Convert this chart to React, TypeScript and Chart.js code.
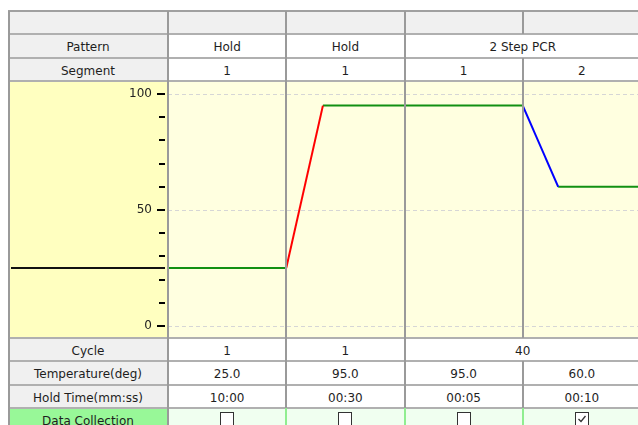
import React, { useEffect, useRef } from 'react';
import { Chart, registerables } from 'chart.js';

Chart.register(...registerables);

// ---------------- data ----------------
const initialTemp = 25;
const stepTemps = [25.0, 95.0, 95.0, 60.0];
const rampFractions = [0, 0.31, 0, 0.3];
const patternNames = ['Hold', 'Hold', '2 Step PCR'];
const patternSpans = [1, 1, 2];
const segmentNumbers = ['1', '1', '1', '2'];
const cycleCounts = ['1', '1', '40'];
const cycleSpans = [1, 1, 2];
const holdTimes = ['10:00', '00:30', '00:05', '00:10'];
const dataCollection = [false, false, false, true];
const yTickValues = [0, 10, 20, 30, 40, 50, 60, 70, 80, 90, 100];
const yLabelValues = [0, 50, 100];
const rowLabels = ['Pattern', 'Segment', 'Cycle', 'Temperature(deg)', 'Hold Time(mm:ss)', 'Data Collection'];

// ---------------- layout ----------------
const FONT = '"DejaVu Sans", sans-serif';
const TABLE_L = 8;
const LABEL_R = 168;
const COL_W = 118.25;
const PLOT_R = 638;
const colX = (i: number) => LABEL_R + i * COL_W;
const TOP_ROWS = [11, 34, 58, 81];
const CHART_TOP = 81;
const CHART_BOT = 338;
const BOT_ROWS = [338, 361, 385, 408, 431];
const PAD_TOP = 13;
const PAD_BOT = 12;

const GRAY_BG = '#f0f0f0';
const LINE_V = '#9a9a9a';
const LINE_H = '#b0b0b0';

function buildDatasets() {
  const sets: any[] = [];
  let prev = initialTemp;
  stepTemps.forEach((t, i) => {
    const rf = rampFractions[i];
    if (rf > 0) {
      sets.push({
        data: [
          { x: i, y: prev },
          { x: i + rf, y: t },
        ],
        borderColor: t > prev ? '#ff0000' : '#0000ff',
      });
    }
    sets.push({
      data: [
        { x: i + rf, y: t },
        { x: i + 1, y: t },
      ],
      borderColor: '#129012',
    });
    prev = t;
  });
  return sets.map((s) => ({ ...s, borderWidth: 2, pointRadius: 0, tension: 0, fill: false }));
}

const axisExtras = {
  id: 'axisExtras',
  afterDraw(chart: any) {
    const { ctx, chartArea } = chart;
    const y = chart.scales.y;
    ctx.save();
    ctx.strokeStyle = '#000';
    ctx.lineWidth = 2;
    y.ticks.forEach((t: any) => {
      const py = Math.round(y.getPixelForValue(t.value));
      const len = yLabelValues.includes(t.value) ? 8 : 6;
      ctx.beginPath();
      ctx.moveTo(chartArea.left - 3 - len, py);
      ctx.lineTo(chartArea.left - 3, py);
      ctx.stroke();
    });
    const py = y.getPixelForValue(initialTemp);
    ctx.strokeStyle = '#111';
    ctx.beginPath();
    ctx.moveTo(3, py);
    ctx.lineTo(chartArea.left - 3, py);
    ctx.stroke();
    ctx.restore();
  },
};

function ProfileChart() {
  const ref = useRef<HTMLCanvasElement | null>(null);
  useEffect(() => {
    if (!ref.current) return;
    const chart = new Chart(ref.current, {
      type: 'line',
      data: { datasets: buildDatasets() },
      options: {
        animation: false,
        responsive: false,
        maintainAspectRatio: false,
        devicePixelRatio: 1,
        layout: { padding: { top: PAD_TOP, bottom: PAD_BOT, left: 0, right: 0 } },
        plugins: { legend: { display: false }, tooltip: { enabled: false } },
        scales: {
          x: {
            type: 'linear',
            min: 0,
            max: (PLOT_R - LABEL_R) / COL_W,
            display: false,
          },
          y: {
            min: 0,
            max: 100,
            afterFit: (s: any) => {
              s.width = LABEL_R - TABLE_L;
            },
            afterBuildTicks: (s: any) => {
              s.ticks = yTickValues.map((v) => ({ value: v }));
            },
            ticks: {
              autoSkip: false,
              padding: 0,
              color: '#222',
              font: { family: FONT, size: 12 },
              callback: (v: any) => (yLabelValues.includes(Number(v)) ? String(v) : ''),
            },
            grid: {
              drawTicks: true,
              tickLength: 16,
              tickColor: 'rgba(0,0,0,0)',
              lineWidth: 1,
              color: (c: any) => (c.tick && yLabelValues.includes(c.tick.value) ? '#d6d6d6' : 'rgba(0,0,0,0)'),
            },
            border: { display: false, dash: [4, 3] },
          },
        },
      },
      plugins: [axisExtras],
    });
    return () => chart.destroy();
  }, []);
  return (
    <canvas
      ref={ref}
      width={PLOT_R - TABLE_L}
      height={CHART_BOT - CHART_TOP}
      style={{ position: 'absolute', left: TABLE_L, top: CHART_TOP, width: PLOT_R - TABLE_L, height: CHART_BOT - CHART_TOP, zIndex: 1 }}
    />
  );
}

function Cell(props: { x1: number; x2: number; y1: number; y2: number; bg: string; text?: string; children?: any }) {
  const { x1, x2, y1, y2, bg, text, children } = props;
  return (
    <div
      style={{
        position: 'absolute',
        left: x1,
        top: y1,
        width: x2 - x1,
        height: y2 - y1,
        boxSizing: 'border-box',
        paddingTop: 2,
        background: bg,
        display: 'flex',
        alignItems: 'center',
        justifyContent: 'center',
        whiteSpace: 'nowrap',
      }}
    >
      {text}
      {children}
    </div>
  );
}

function VLine({ x, y1, y2, color, w = 2 }: { x: number; y1: number; y2: number; color: string; w?: number }) {
  return <div style={{ position: 'absolute', left: x - w / 2, top: y1, width: w, height: y2 - y1, background: color, zIndex: 3 }} />;
}
function HLine({ y, color }: { y: number; color: string }) {
  return <div style={{ position: 'absolute', left: TABLE_L, top: y - 1, width: 660, height: 2, background: color, zIndex: 2 }} />;
}

function CheckBox({ checked }: { checked: boolean }) {
  return (
    <div style={{ width: 12, height: 12, border: '1px solid #333', background: '#fff', marginTop: 2, position: 'relative' }}>
      {checked ? (
        <svg width="12" height="12" style={{ position: 'absolute', left: 0, top: 0 }}>
          <polyline points="2.5,6 5,8.5 9.5,3" fill="none" stroke="#333" strokeWidth="1.3" />
        </svg>
      ) : null}
    </div>
  );
}

function spanCells(values: string[], spans: number[], y1: number, y2: number) {
  let c = 0;
  return values.map((v, i) => {
    const x1 = colX(c);
    c += spans[i];
    const x2 = colX(c);
    return <Cell key={i} x1={x1} x2={x2} y1={y1} y2={y2} bg="#fff" text={v} />;
  });
}
function spanLines(spans: number[], y1: number, y2: number, color: string) {
  let c = 0;
  const out: any[] = [];
  spans.forEach((s, i) => {
    c += s;
    out.push(<VLine key={i} x={colX(c)} y1={y1} y2={y2} color={color} />);
  });
  return out;
}

export default function App() {
  const ones = [1, 1, 1, 1];
  const temps = stepTemps.map((t) => t.toFixed(1));
  const [r0, r1, r2, r3] = TOP_ROWS;
  const [b0, b1, b2, b3, b4] = BOT_ROWS;
  return (
    <div
      style={{
        position: 'fixed',
        left: 0,
        top: 0,
        width: 638,
        height: 425,
        overflow: 'hidden',
        background: '#fff',
        fontFamily: FONT,
        fontSize: 12,
        color: '#1e1e1e',
      }}
    >
      {/* header blank row */}
      <Cell x1={TABLE_L} x2={700} y1={r0} y2={r1} bg={GRAY_BG} />
      {/* label column */}
      <Cell x1={TABLE_L} x2={LABEL_R} y1={r1} y2={r2} bg={GRAY_BG} text={rowLabels[0]} />
      <Cell x1={TABLE_L} x2={LABEL_R} y1={r2} y2={r3} bg={GRAY_BG} text={rowLabels[1]} />
      {spanCells(patternNames, patternSpans, r1, r2)}
      {spanCells(segmentNumbers, ones, r2, r3)}

      {/* chart band backgrounds */}
      <div style={{ position: 'absolute', left: TABLE_L, top: CHART_TOP, width: LABEL_R - TABLE_L, height: CHART_BOT - CHART_TOP, background: '#ffffc0' }} />
      <div style={{ position: 'absolute', left: LABEL_R, top: CHART_TOP, width: PLOT_R - LABEL_R, height: CHART_BOT - CHART_TOP, background: '#ffffe0' }} />
      <ProfileChart />

      {/* bottom rows */}
      <Cell x1={TABLE_L} x2={LABEL_R} y1={b0} y2={b1} bg={GRAY_BG} text={rowLabels[2]} />
      <Cell x1={TABLE_L} x2={LABEL_R} y1={b1} y2={b2} bg={GRAY_BG} text={rowLabels[3]} />
      <Cell x1={TABLE_L} x2={LABEL_R} y1={b2} y2={b3} bg={GRAY_BG} text={rowLabels[4]} />
      <Cell x1={TABLE_L} x2={LABEL_R} y1={b3} y2={b4} bg="#98f898" text={rowLabels[5]} />
      {spanCells(cycleCounts, cycleSpans, b0, b1)}
      {spanCells(temps, ones, b1, b2)}
      {spanCells(holdTimes, ones, b2, b3)}
      {dataCollection.map((d, i) => (
        <Cell key={'dc' + i} x1={colX(i)} x2={colX(i + 1)} y1={b3} y2={b4} bg="#f0fff0">
          <div style={{ alignSelf: 'flex-start' }}>
            <CheckBox checked={d} />
          </div>
        </Cell>
      ))}

      {/* horizontal lines */}
      {[r0, r1, r2, r3, b0, b1, b2, b3].map((y, i) => (
        <HLine key={'h' + i} y={y} color={i === 0 ? '#a0a0a0' : LINE_H} />
      ))}

      {/* vertical lines */}
      <VLine x={TABLE_L + 1} y1={r0} y2={440} color={LINE_V} />
      <VLine x={LABEL_R} y1={r0} y2={440} color={LINE_V} />
      {spanLines(ones, r0, r1, LINE_V)}
      {spanLines(patternSpans, r1, r2, LINE_V)}
      {spanLines(ones, r2, r3, LINE_V)}
      {spanLines(ones, CHART_TOP, CHART_BOT, LINE_V)}
      {spanLines(cycleSpans, b0, b1, LINE_V)}
      {spanLines(ones, b1, b2, LINE_V)}
      {spanLines(ones, b2, b3, LINE_V)}
      {spanLines(ones, b3, b4, '#90ee90')}
    </div>
  );
}
